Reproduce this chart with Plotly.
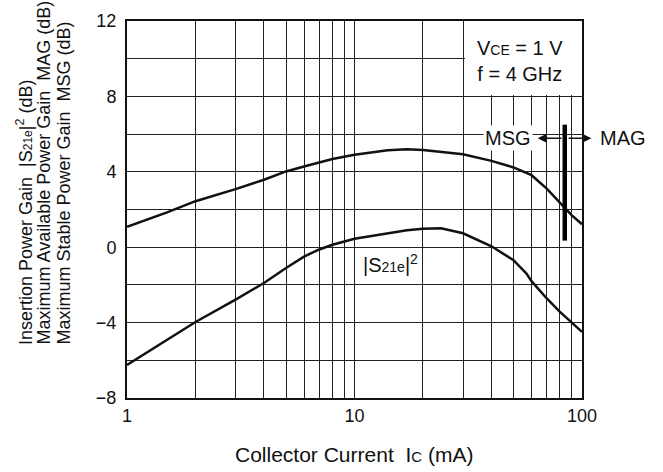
import numpy as np
import plotly.graph_objects as go

# ---- data ----
ic_msg = [1, 1.5, 2, 3, 4, 5, 6, 7, 8, 10, 14, 17, 20, 30, 40, 50, 60, 70, 80, 90, 100]
gain_msg = [1.08, 1.85, 2.44, 3.08, 3.58, 4.02, 4.28, 4.5, 4.68, 4.91, 5.14, 5.19, 5.15,
            4.93, 4.58, 4.23, 3.82, 3.11, 2.35, 1.70, 1.22]

ic_s21 = [1, 1.5, 2, 3, 4, 5, 6, 7, 8, 10, 14, 17, 20, 24, 30, 40, 50, 57, 60, 70, 80, 90, 100]
gain_s21 = [-6.25, -4.92, -3.97, -2.78, -1.9, -1.1, -0.5, -0.12, 0.13, 0.45, 0.75, 0.9, 0.98,
            1.0, 0.74, 0.05, -0.69, -1.4, -1.8, -2.72, -3.43, -4.01, -4.49]

boundary_ic = [84, 84]
boundary_gain = [6.5, 0.35]

box_ic = [30.6, 100, 100, 30.6, 30.6]
box_gain = [8.07, 8.07, 12, 12, 8.07]

x_major = [1, 10, 100]
x_major_text = ['1', '10', '100']
x_minor = [2, 3, 4, 5, 6, 7, 8, 9, 20, 30, 40, 50, 60, 70, 80, 90]
y_major = [-8, -4, 0, 4, 8, 12]
y_major_text = ['\u22128', '\u22124', '0', '4', '8', '12']
y_minor = [-6, -2, 2, 6, 10]

FONT = "Liberation Sans"
NB = '\u00a0'


def small(t, size):
    return f'<span style="font-size:{size}px">{t}</span>'


fig = go.Figure()
fig.add_trace(go.Scatter(x=box_ic, y=box_gain, fill='toself', fillcolor='white',
                         line=dict(width=0), mode='lines', hoverinfo='skip', showlegend=False))
fig.add_trace(go.Scatter(x=ic_msg, y=gain_msg, mode='lines',
                         line=dict(color='#111', width=2.5), showlegend=False))
fig.add_trace(go.Scatter(x=ic_s21, y=gain_s21, mode='lines',
                         line=dict(color='#111', width=2.5), showlegend=False))
fig.add_trace(go.Scatter(x=boundary_ic, y=boundary_gain, mode='lines',
                         line=dict(color='black', width=4.5), showlegend=False))

grid = dict(gridcolor='#222', gridwidth=1.3)
fig.update_layout(
    width=663, height=472,
    margin=dict(l=127, r=81, t=21, b=74),
    paper_bgcolor='white', plot_bgcolor='white',
    font=dict(family=FONT, size=16, color='#111'),
    xaxis=dict(type='log', range=[0, 2], tickvals=x_major, ticktext=x_major_text,
               showgrid=True, **grid,
               minor=dict(tickvals=x_minor, showgrid=True, ticks='', **grid),
               showline=True, linecolor='#111', linewidth=2, mirror=True,
               ticks='', ticklabelstandoff=0, zeroline=False,
               tickfont=dict(size=18)),
    yaxis=dict(range=[-8, 12], tickvals=y_major, ticktext=y_major_text,
               showgrid=True, **grid,
               minor=dict(tickvals=y_minor, showgrid=True, ticks='', **grid),
               showline=True, linecolor='#111', linewidth=2, mirror=True,
               ticks='', ticklabelstandoff=5, zeroline=False,
               tickfont=dict(size=18)),
)

ann = []
ytitles = [f"Insertion Power Gain{NB} |S{small('21e', 12)}|<sup>2</sup> (dB)",
           f"Maximum Available Power Gain{NB} MAG (dB)",
           f"Maximum Stable Power Gain{NB} MSG (dB)"]
for i, t in enumerate(ytitles):
    ann.append(dict(text=t, xref='paper', yref='paper', x=(24 + 19.5 * i - 127) / 455,
                    y=(398 - 347) / 377, xanchor='center', yanchor='bottom',
                    textangle=-90, showarrow=False, font=dict(size=18)))
ann.append(dict(text=f"Collector Current{NB} I{small('C', 15)} (mA)", xref='paper', yref='paper',
                x=(354 - 127) / 455, y=-56 / 377, xanchor='center', yanchor='middle',
                showarrow=False, font=dict(size=21)))
ann.append(dict(text=f"V{small('CE', 14)} = 1 V<br>f = 4 GHz", x=np.log10(53.4), y=9.86,
                xref='x', yref='y', showarrow=False, align='center', font=dict(size=20)))
ann.append(dict(text=f"|S{small('21e', 14)}|<sup>2</sup>", x=np.log10(10.7), y=-0.85,
                xref='x', yref='y', xanchor='left', showarrow=False, font=dict(size=20)))
ann.append(dict(text="MSG", x=np.log10(47.3), y=5.78, xref='x', yref='y',
                showarrow=False, bgcolor='white', borderpad=1, font=dict(size=20)))
ann.append(dict(text="MAG", x=(598 - 127) / 455, y=5.78, xref='paper', yref='y', xanchor='left',
                showarrow=False, font=dict(size=20)))
ann.append(dict(text="", x=np.log10(63.8), y=5.78, ax=np.log10(82.5), ay=5.78,
                xref='x', yref='y', axref='x', ayref='y', showarrow=True,
                arrowhead=2, arrowsize=1.4, arrowwidth=1.3, arrowcolor='#111'))
ann.append(dict(text="", x=np.log10(110), y=5.78, ax=np.log10(86), ay=5.78,
                xref='x', yref='y', axref='x', ayref='y', showarrow=True,
                arrowhead=2, arrowsize=1.4, arrowwidth=1.3, arrowcolor='#111'))
fig.update_layout(annotations=ann)

fig.write_html("out.html", config={'displayModeBar': False},
               post_script="document.body.style.margin='0';")
